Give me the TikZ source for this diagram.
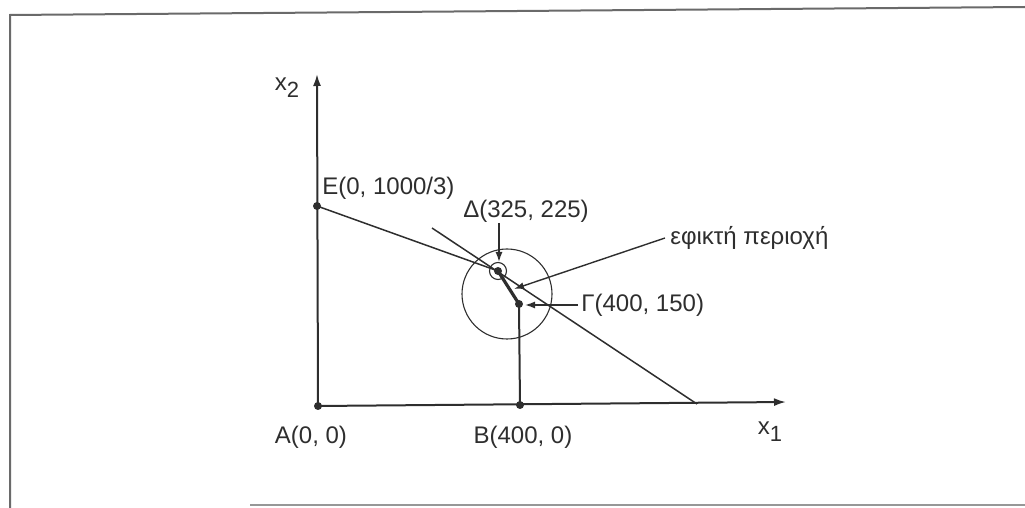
\documentclass[tikz,border=0pt]{standalone}
\usepackage{fontspec}
\setmainfont{Liberation Sans}
\usetikzlibrary{arrows.meta}
\definecolor{ink}{HTML}{2E2E2E}
\definecolor{framec}{HTML}{6A6A6A}
\begin{document}
\begin{tikzpicture}[x=0.5pt,y=-0.5pt,
  lbl/.style={inner sep=0pt,text=ink,font=\fontsize{12}{14}\selectfont},
  axis/.style={draw=ink,line width=1pt,-{Latex[length=6pt,width=4pt]}},
  thin/.style={draw=ink,line width=0.75pt},
  ptr/.style={draw=ink,line width=0.7pt,-{Latex[length=5pt,width=3.5pt]}},
  dot/.style={circle,fill=ink,inner sep=0pt,minimum size=4pt}]
\useasboundingbox (0,0) rectangle (1025,508);
% frame
\draw[framec,line width=1pt] (10,508) -- (10,15) -- (1025,7);
\draw[framec!70,line width=1pt] (250,505) -- (1025,505);
% points
\coordinate (A) at (318,406);
\coordinate (B) at (520,405);
\coordinate (E) at (317,206);
\coordinate (D) at (498,271);
\coordinate (G) at (519,304);
\coordinate (X1) at (786,402);
\coordinate (X2) at (317,74);
\coordinate (L1) at (432,228);
\coordinate (L2) at (697,404);
\coordinate (C) at (507,294);
% axes
\draw[axis] (A) -- (X1);
\draw[axis] (A) -- (X2);
% lines
\draw[thin] (E) -- (D);
\draw[thin] (L1) -- (L2);
\draw[draw=ink,line width=1pt] (G) -- (B);
\draw[draw=ink,line width=1.6pt] (D) -- (G);
\draw[draw=ink,line width=0.55pt] (C) circle[radius=45];
\draw[draw=ink,line width=0.55pt] (D) circle[radius=8.5];
% dots
\node[dot] (nA) at (A) {};
\node[dot] (nB) at (B) {};
\node[dot] (nE) at (E) {};
\node[dot] (nD) at (D) {};
\node[dot] (nG) at (G) {};
% labels
\node[lbl] (tx2) at (287,88) {x\raisebox{-0.55ex}{\fontsize{11}{12}\selectfont 2}};
\node[lbl] (tx1) at (770,432) {x\raisebox{-0.55ex}{\fontsize{11}{12}\selectfont 1}};
\node[lbl,anchor=west] (tE) at (322,188) {E(0, 1000/3)};
\node[lbl] (tD) at (526,211) {Δ(325, 225)};
\node[lbl,anchor=west] (tF) at (670,238) {εφικτή περιοχή};
\node[lbl,anchor=west] (tG) at (581,305) {Γ(400, 150)};
\node[lbl] (tA) at (311,437) {A(0, 0)};
\node[lbl] (tB) at (523,437) {B(400, 0)};
% pointers
\coordinate (pD) at (499,262);
\coordinate (pF) at (514,289);
\coordinate (pG) at (525,305);
\draw[ptr] (499,223) -- (pD);
\draw[ptr] (tF.west) ++(-5,0) -- (pF);
\draw[ptr] (tG.west) ++(-3,0) -- (pG);
\end{tikzpicture}
\end{document}
